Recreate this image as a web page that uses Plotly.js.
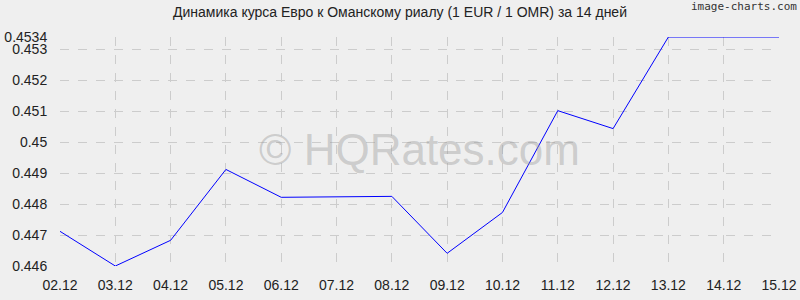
<!DOCTYPE html>
<html><head><meta charset="utf-8">
<script src="https://cdn.plot.ly/plotly-3.0.1.min.js"></script>
<style>html,body{margin:0;padding:0;background:#efefef;}#chart{width:800px;height:300px;}</style>
</head><body><div id="chart"></div>
<script>
const dates = ["02.12","03.12","04.12","05.12","06.12","07.12","08.12","09.12","10.12","11.12","12.12","13.12","14.12","15.12"];
const rates = [0.44712,0.4460,0.44683,0.44912,0.44822,0.44823,0.44825,0.44641,0.44773,0.45102,0.45044,0.4534,0.4534,0.4534];
const yTickVals = [0.446,0.447,0.448,0.449,0.45,0.451,0.452,0.453,0.4534];
const yTickText = ["0.446","0.447","0.448","0.449","0.45","0.451","0.452","0.453","0.4534"];
const titleText = "Динамика курса Евро к Оманскому риалу (1 EUR / 1 OMR) за 14 дней";

const trace = {x: dates, y: rates, type: "scatter", mode: "lines",
  line: {color: "#0000ff", width: 1}, hoverinfo: "skip"};

const layout = {
  width: 800, height: 300,
  margin: {l: 60, r: 21, t: 37, b: 34},
  paper_bgcolor: "#efefef", plot_bgcolor: "#efefef",
  font: {family: "Liberation Sans, Arial, sans-serif", color: "#222", size: 14},
  title: {text: titleText, x: 0.5, xanchor: "center", y: 0.975, yanchor: "top",
    font: {size: 14, color: "#222"}},
  showlegend: false,
  xaxis: {type: "category", range: [0, dates.length - 1], showgrid: true,
    gridcolor: "#cccccc", griddash: "dash", gridwidth: 1, zeroline: false,
    showline: false, ticks: "outside", ticklen: 6, tickcolor: "rgba(0,0,0,0)",
    tickfont: {size: 14}, fixedrange: true},
  yaxis: {range: [0.446, 0.4534], tickvals: yTickVals, ticktext: yTickText,
    showgrid: true, gridcolor: "#cccccc", griddash: "dash", gridwidth: 1,
    zeroline: false, showline: false, ticks: "outside", ticklen: 9, tickcolor: "rgba(0,0,0,0)",
    tickfont: {size: 14}, fixedrange: true},
  annotations: [
    {text: "© HQRates.com", xref: "paper", yref: "paper", x: 0.5, y: 0.5,
      xanchor: "center", yanchor: "middle", showarrow: false, yshift: 2,
      font: {size: 44, color: "rgba(150,150,150,0.4)", family: "Liberation Sans, Arial, sans-serif"}},
    {text: "image-charts.com", xref: "paper", yref: "paper", x: 1, y: 1,
      xanchor: "right", yanchor: "bottom", xshift: 20, yshift: 22, showarrow: false,
      font: {size: 11, color: "#333", family: "DejaVu Sans Mono, monospace"}}
  ]
};
Plotly.newPlot("chart", [trace], layout, {displayModeBar: false, staticPlot: true});
</script></body></html>
